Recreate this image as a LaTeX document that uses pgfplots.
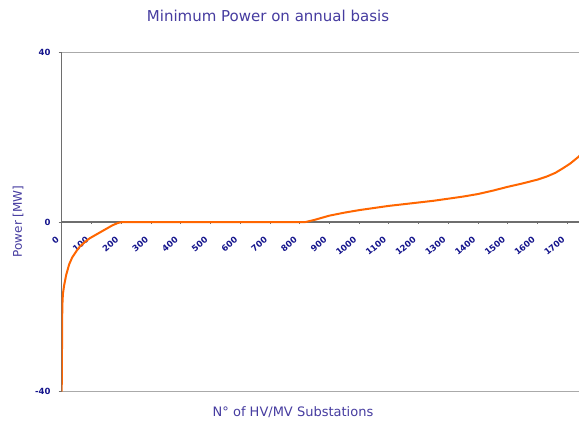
\documentclass[border=0pt]{standalone}
\usepackage{pgfplots}
\pgfplotsset{compat=1.18}
\usepackage{fontspec}
\setmainfont{DejaVu Sans}
\definecolor{titleblue}{RGB}{70,60,160}
\definecolor{tickblue}{RGB}{20,20,140}
\definecolor{lineorange}{RGB}{255,102,0}
\definecolor{axisgray}{RGB}{110,110,110}
\definecolor{gridgray}{RGB}{170,170,170}
\begin{document}
\begin{tikzpicture}[x=1pt,y=1pt]
\clip (0,0) rectangle (579,421);
\fill[white] (0,0) rectangle (579,421);
\begin{axis}[
  at={(61.7pt,29.3pt)}, anchor=south west,
  scale only axis, width=535.4pt, height=339.4pt,
  xmin=0, xmax=1800, ymin=-40, ymax=40,
  axis y line=left, axis x line=middle,
  axis line style={-, axisgray, line width=1.3pt},
  hide obscured x ticks=false,
  ymajorgrids, grid style={gridgray, line width=1.1pt},
  xtick={0,100,...,1700}, ytick={-40,0,40},
  major tick length=3pt,
  xtick align=center,
  ytick align=outside,
  tick style={axisgray, line width=0.8pt},
  /pgf/number format/assume math mode=true,
  /pgf/number format/set thousands separator={},
  xticklabel style={font=\fontsize{8.5}{10}\selectfont\bfseries, text=tickblue, xshift=-6pt, yshift=-12pt, rotate=40, anchor=north east, inner sep=0pt},
  yticklabel style={font=\fontsize{8.5}{10}\selectfont\bfseries, text=tickblue, inner sep=0pt, xshift=-8pt},
  clip=true,
]
\addplot[lineorange, line width=2pt] coordinates {
(0,-40) (1,-30) (2,-20) (4,-17) (8,-15) (15,-12.5) (25,-10) (35,-8.4) (50,-6.8) (61,-5.8) (80,-4.6) (95,-3.8) (115,-3.0) (130,-2.4) (150,-1.6) (170,-0.8) (190,-0.2) (205,0)
(820,0) (850,0.5) (900,1.5) (950,2.2) (1000,2.8) (1050,3.3) (1100,3.8) (1150,4.2) (1200,4.6) (1250,5.0) (1300,5.5) (1350,6.0) (1400,6.6) (1450,7.4) (1500,8.3) (1550,9.1) (1600,10.0) (1630,10.7) (1660,11.6) (1686,12.7) (1710,13.8) (1738,15.4) (1760,17)
};
\end{axis}
\node[text=titleblue, font=\fontsize{15}{17}\selectfont] at (268,405) {Minimum Power on annual basis};
\node[text=titleblue, font=\fontsize{13}{15}\selectfont] at (293,9.3) {N° of HV/MV Substations};
\node[text=titleblue, font=\fontsize{12}{14}\selectfont, rotate=90] at (18,199.5) {Power [MW]};
\end{tikzpicture}
\end{document}
